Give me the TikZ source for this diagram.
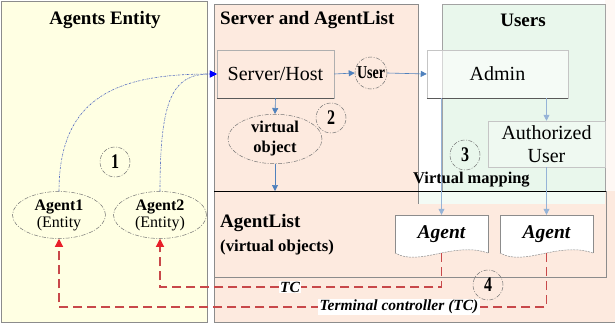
\documentclass[tikz,border=0pt]{standalone}
\usepackage{fontspec}
\setmainfont{Liberation Serif}
\usetikzlibrary{arrows.meta,shapes.geometric,calc}
\definecolor{ylw}{HTML}{FFFFE3}
\definecolor{pch}{HTML}{FDEADF}
\definecolor{grn}{HTML}{E9F7EC}
\definecolor{bord}{HTML}{8C8C8C}
\definecolor{barrow}{HTML}{4F81BD}
\definecolor{dblue}{HTML}{5068C0}
\definecolor{rline}{HTML}{C8484A}
\definecolor{rtip}{HTML}{E8202A}
\newcommand\agdoc[1]{%
  \path[fill=white] ($(#1)+(-46.5,19)$) -- ($(#1)+(-46.5,-19)$) -- ($(#1)+(46.5,-19)$) -- ($(#1)+(46.5,19)$) .. controls ($(#1)+(11.5,7)$) and ($(#1)+(-21.5,33)$) .. ($(#1)+(-46.5,19)$) -- cycle;
  \draw[bord,line width=0.5pt] ($(#1)+(-46.5,19)$) -- ($(#1)+(-46.5,-19)$) -- ($(#1)+(46.5,-19)$) -- ($(#1)+(46.5,19)$);
  \draw[bord,line width=0.5pt,dash pattern=on 2pt off 1pt] ($(#1)+(46.5,19)$) .. controls ($(#1)+(11.5,7)$) and ($(#1)+(-21.5,33)$) .. ($(#1)+(-46.5,19)$);
}
\newcommand\tallt[1]{\scalebox{1}[1.3]{#1}}
\begin{document}
\begin{tikzpicture}[x=1pt,y=-1pt,
  title/.style={font=\fontsize{19}{21}\selectfont\bfseries,inner sep=0pt},
  dd/.style={draw=black!55,line width=0.5pt,dash pattern=on 4pt off 1.5pt on 1pt off 1.5pt},
  numc/.style={circle,dd,minimum size=30pt,inner sep=0pt,font=\fontsize{16}{17}\selectfont\bfseries},
  agell/.style={ellipse,dd,minimum width=93pt,minimum height=47pt,inner sep=0pt,align=center,font=\fontsize{16}{17}\selectfont},
  barr/.style={draw=barrow,line width=0.6pt,-{Triangle[length=6pt,width=6pt]}},
  bcurve/.style={draw=dblue,line width=0.6pt,dash pattern=on 2pt off 1pt on 0.5pt off 1pt,-{Triangle[length=7pt,width=7pt,fill=blue,color=blue]}},
  redl/.style={draw=rline,line width=1.1pt,dash pattern=on 9pt off 5pt,-{Triangle[length=8pt,width=8pt,color=rtip,fill=rtip]}},
  lbl/.style={fill=white,inner sep=1.2pt,font=\fontsize{15.5}{17}\selectfont\bfseries\itshape},
  docn/.style={minimum width=93pt,minimum height=38pt,inner sep=0pt,font=\fontsize{19.5}{21}\selectfont\bfseries\itshape},
]
\useasboundingbox (0,0) rectangle (615,324);
% backgrounds
\fill[white] (0,0) rectangle (615,324);
\fill[pch!35] (605,0) rectangle (615,191);
\fill[ylw] (1,1) rectangle (207,322);
\draw[bord,line width=0.6pt] (1,1) rectangle (207,322);
\fill[pch] (214,4) rectangle (418,204);
\fill[pch] (214,191) rectangle (615,323);
\fill[grn] (442,4) rectangle (605,191);
\fill[grn!55!white] (418,191) rectangle (605,204);
\draw[bord,line width=0.6pt] (214,322) -- (214,4) -- (418,4) -- (418,204);
\draw[bord,line width=0.6pt] (214,322) -- (615,322);
\draw[bord!80,line width=0.6pt] (442,191) -- (442,4) -- (605,4) -- (605,191);
\draw[black,line width=0.8pt] (214,191) -- (606,191);
\draw[bord,line width=0.6pt] (606,191) -- (606,277) -- (214,277);
% titles
\node[title] (t1) at (105,20) {Agents Entity};
\node[title,anchor=west] (t2) at (220,20) {Server and AgentList};
\node[title] (t3) at (523,20) {Users};
% server column
\node[draw=bord!70,line width=0.5pt,minimum width=117pt,minimum height=48pt,inner sep=0pt,font=\fontsize{20}{22}\selectfont] (srv) at (275.5,74) {Server/Host};
\draw[black!65,line width=0.9pt] (srv.south west) -- (srv.south east);
\node[circle,dd,minimum size=32pt,inner sep=0pt,font=\fontsize{14}{15}\selectfont\bfseries] (usr) at (371,73) {\tallt{User}};
\node[ellipse,dd,minimum width=94pt,minimum height=48pt,inner sep=0pt,align=center,font=\fontsize{16.5}{20}\selectfont\bfseries] (vo) at (275,139) {virtual\\object};
\node[numc] (n2) at (331,118) {\tallt{2}};
% users column
\node[draw=bord!50,line width=0.5pt,fill=white,fill opacity=0.55,text opacity=1,minimum width=141pt,minimum height=48pt,inner sep=0pt,font=\fontsize{20}{22}\selectfont] (adm) at (497.5,74) {Admin};
\draw[black!65,line width=0.9pt] (adm.south west) -- (adm.south east);
\node[draw=bord!50,line width=0.5pt,fill=white,fill opacity=0.3,text opacity=1,minimum width=117pt,minimum height=46pt,inner sep=0pt,align=center,font=\fontsize{20}{23}\selectfont] (auth) at (546.5,144) {Authorized\\User};
\node[numc] (n3) at (465,155) {\tallt{3}};
\node[anchor=base west,inner sep=0pt,font=\fontsize{16.4}{18}\selectfont\bfseries] (vm) at (413,183) {Virtual mapping};
% agent list
\node[anchor=west,inner sep=0pt,font=\fontsize{19}{21}\selectfont\bfseries] (al1) at (220,223) {AgentList};
\node[anchor=west,inner sep=0pt,font=\fontsize{16.7}{18}\selectfont\bfseries] (al2) at (220,247) {(virtual objects)};
\coordinate (d1c) at (441.5,234);
\coordinate (d2c) at (546.5,234);
\agdoc{d1c}
\agdoc{d2c}
\node[docn] (d1) at (d1c) {Agent};
\node[docn] (d2) at (d2c) {Agent};
\coordinate (altop) at (275,191);
% agents entity
\node[agell] (a1) at (59,215) {\textbf{Agent1}\\(Entity};
\node[agell] (a2) at (160,215) {\textbf{Agent2}\\(Entity)};
\node[numc] (n1) at (115,162) {\tallt{1}};
\node[numc] (n4) at (488,285) {\tallt{4}};
% blue arrows
\draw[barr] (srv.east) -- (usr.west);
\draw[barr] (usr.east) -- (adm.west);
\draw[barr] (srv.south) -- (vo.north);
\draw[barr] (vo.south) -- (altop);
\draw[barr,draw=barrow!60] (auth.north |- adm.south) -- (auth.north);
\draw[barr,draw=barrow!60] (auth.south) -- (d2.north);
\draw[barr,draw=barrow!60] (d1.north |- adm.south) -- (d1.north);
% blue curves
\draw[bcurve] (a1.north) .. controls (59,95) and (120,74) .. (srv.west);
\draw[bcurve] (a2.north) .. controls (160,100) and (172,74) .. (srv.west);
% red dashed
\draw[redl] (d1.south) -- (d1.south |- 0,287) -| (a2.south);
\draw[redl] (d2.south) -- (d2.south |- 0,307) -| (a1.south);
\node[lbl] (tc) at (290,287) {TC};
\node[lbl] (tcl) at (399,307) {Terminal controller (TC)};
\end{tikzpicture}
\end{document}
